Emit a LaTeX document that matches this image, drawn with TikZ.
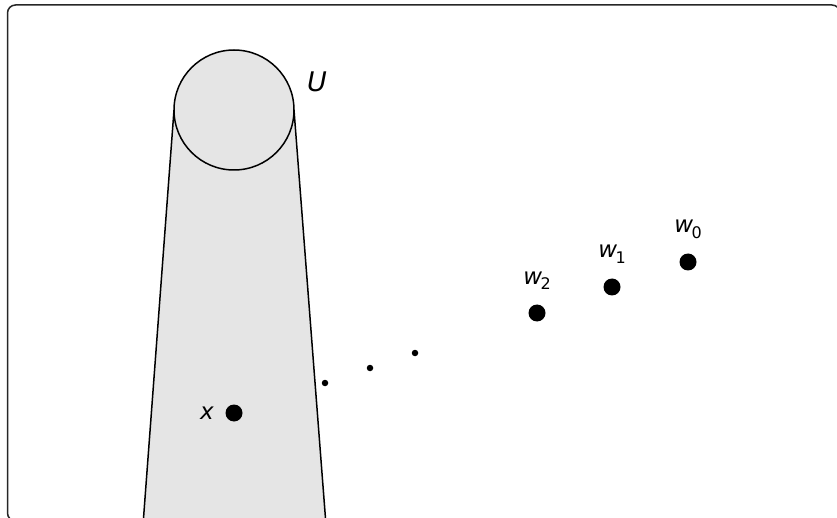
\documentclass[tikz,border=0pt]{standalone}
\usepackage{fontspec}
\setmainfont{DejaVu Sans}
\newcommand\mysub[1]{\kern-1.5pt\raisebox{-0.22em}{\upshape\fontsize{16}{16}\selectfont #1}}
\begin{document}
\begin{tikzpicture}[x=1pt,y=-1pt,
  bigdot/.style={circle, fill=black, inner sep=0pt, minimum size=17pt},
  smalldot/.style={circle, fill=black, inner sep=0pt, minimum size=6.5pt},
  lab/.style={font=\fontsize{23}{27}\selectfont\itshape, inner sep=0pt},
  edge/.style={line width=1.5pt, black},
  region/.style={fill=gray!20}]
\useasboundingbox (0,0) rectangle (837,518);
\clip (0,0) rectangle (837,518);
% frame
\draw[line width=1.5pt, black!85, rounded corners=8pt] (7.5,5) rectangle (840,521);
% region U
\coordinate (tl) at (174,110);
\coordinate (tr) at (294,110);
\coordinate (bl) at (143,525);
\coordinate (br) at (326,525);
\fill[region] (tl) -- (bl) -- (br) -- (tr) -- cycle;
\draw[edge] (tl) -- (bl);
\draw[edge] (tr) -- (br);
\node[circle, draw, edge, region, minimum size=120pt, inner sep=0pt] (U) at (234,110) {};
\node[lab, font=\fontsize{27}{30}\selectfont\itshape, anchor=base] (Ulab) at (317,92) {U};
% points
\node[bigdot] (x) at (234,413) {};
\node[lab, anchor=base] (xlab) at (207,419) {x};
\node[smalldot] (d1) at (325,383) {};
\node[smalldot] (d2) at (370,368) {};
\node[smalldot] (d3) at (415,353) {};
\node[bigdot] (w2) at (537,313) {};
\node[bigdot] (w1) at (612,287) {};
\node[bigdot] (w0) at (688,262) {};
\node[lab, anchor=base] (w2lab) at (537,284) {w\mysub{2}};
\node[lab, anchor=base] (w1lab) at (612,258) {w\mysub{1}};
\node[lab, anchor=base] (w0lab) at (688,233) {w\mysub{0}};
\end{tikzpicture}
\end{document}
